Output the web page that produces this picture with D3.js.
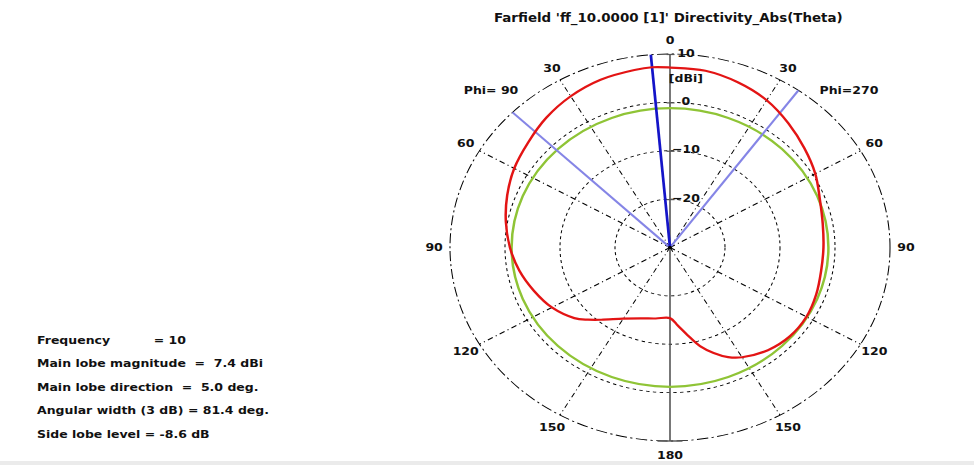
<!DOCTYPE html>
<html>
<head>
<meta charset="utf-8">
<script src="https://cdn.jsdelivr.net/npm/d3@7"></script>
<style>
  body { margin: 0; background: #fff; }
  text { font-family: "DejaVu Sans", sans-serif; font-weight: bold; fill: #111; }
</style>
</head>
<body>
<svg id="chart" width="974" height="465"></svg>
<script>
// cut Phi=90 (drawn on the left), theta in deg, directivity in dBi
const thetaPhi90 = [0, 5, 10, 20, 30, 40, 50, 60, 70, 80, 90, 100, 110, 120, 130, 135, 140, 150, 160, 170, 180];
const dirPhi90 = [7.2, 7.4, 7.25, 6.9, 6.1, 5.0, 3.7, 2.7, 1.5, 0.3, -0.9, -2.2, -3.7, -5.2, -7.3, -8.9, -10.5, -13.0, -14.4, -15.1, -15.4];

// cut Phi=270 (drawn on the right)
const thetaPhi270 = [0, 10, 20, 30, 40, 50, 60, 70, 80, 90, 100, 110, 120, 130, 140, 150, 155, 160, 165, 170, 175, 180];
const dirPhi270 = [7.2, 7.1, 6.3, 5.15, 3.5, 1.9, 0.5, -1.0, -1.8, -2.1, -2.1, -1.7, -1.35, -1.5, -2.3, -3.8, -5.0, -6.8, -8.9, -11.6, -13.8, -15.4];

// summary values
const frequency = 10;
const mainLobeMag = 7.4;
const mainLobeDir = 5.0;
const angularWidth = 81.4;
const sideLobeLevel = -8.6;

const ringValues = [-20, -10, 0, 10];
const angleTicks = [0, 30, 60, 90, 120, 150, 180];
const spokeAngles = [30, 60, 120, 150];

const title = "Farfield 'ff_10.0000 [1]' Directivity_Abs(Theta)";

const svg = d3.select("#chart");
const sx = 1.137;           // the picture is stretched horizontally
const cx = 670, cy = 247.5;
const rad = d3.scaleLinear().domain([-30, 10]).range([0, 193.5]);
const toRad = d => d * Math.PI / 180;
const fs = "11px";

svg.append("rect")
    .attr("x", 0).attr("y", 461)
    .attr("width", 974).attr("height", 4)
    .attr("fill", "#ebebeb");

const g = svg.append("g")
    .attr("transform", `translate(${cx},${cy}) scale(${sx},1)`);

g.append("text")
    .attr("x", -1.5)
    .attr("y", -229.5)
    .attr("text-anchor", "middle")
    .attr("dominant-baseline", "central")
    .style("font-size", "11.8px")
    .text(title);

// rings
g.selectAll("circle.ring")
  .data(ringValues)
  .join("circle")
    .attr("class", "ring")
    .attr("r", d => rad(d))
    .attr("fill", "none")
    .attr("stroke", "#000")
    .attr("stroke-width", 0.9)
    .attr("stroke-dasharray", d => d === 10 ? "10,3,2,3" : "3,3");

// spokes
const spokes = [];
spokeAngles.forEach(a => { spokes.push(a); spokes.push(-a); });
g.selectAll("line.spoke")
  .data(spokes)
  .join("line")
    .attr("class", "spoke")
    .attr("x2", d => rad(10) * Math.sin(toRad(d)))
    .attr("y2", d => -rad(10) * Math.cos(toRad(d)))
    .attr("stroke", "#000")
    .attr("stroke-width", 0.9)
    .attr("stroke-dasharray", "5,3,1,3");

// angle labels
const angleLabels = [];
angleTicks.forEach(a => {
  angleLabels.push({v: a, a: a});
  if (a > 0 && a < 180) angleLabels.push({v: a, a: -a});
});
g.selectAll("text.ang")
  .data(angleLabels)
  .join("text")
    .attr("class", "ang")
    .attr("x", d => (rad(10) + 14) * Math.sin(toRad(d.a)))
    .attr("y", d => -(rad(10) + 14) * Math.cos(toRad(d.a)))
    .attr("text-anchor", "middle")
    .attr("dominant-baseline", "central")
    .style("font-size", fs)
    .text(d => d.v);

// vertical dB axis
g.append("line")
    .attr("y1", -rad(10)).attr("y2", rad(10))
    .attr("stroke", "#555").attr("stroke-width", 1.4);
g.append("line")
    .attr("x1", -11).attr("x2", 11)
    .attr("y1", rad(10)).attr("y2", rad(10))
    .attr("stroke", "#555").attr("stroke-width", 1.4);

const yAxis = d3.scaleLinear().domain([-30, 10]).range([0, -193.5]);
const ax = g.append("g")
    .call(d3.axisRight(yAxis).tickValues(ringValues).tickSize(4));
ax.select(".domain").remove();
ax.selectAll(".tick line").attr("stroke", "#555").attr("x1", -3).attr("stroke-width", 1.2);
ax.selectAll(".tick text")
    .attr("x", 14).attr("dy", "0.2em")
    .attr("text-anchor", "middle")
    .attr("fill", "#111")
    .style("font-family", "DejaVu Sans, sans-serif")
    .style("font-weight", "bold")
    .style("font-size", fs);
g.append("text")
    .attr("x", 14).attr("y", yAxis(5))
    .attr("text-anchor", "middle")
    .attr("dominant-baseline", "central")
    .style("font-size", fs)
    .text("[dBi]");

// side lobe level circle
g.append("circle")
    .attr("r", rad(mainLobeMag + sideLobeLevel))
    .attr("fill", "none")
    .attr("stroke", "#8fc436")
    .attr("stroke-width", 2.2);

// 3 dB beam width edges
const beamEdges = [-(mainLobeDir + angularWidth / 2), angularWidth / 2 - mainLobeDir];
g.selectAll("line.beam")
  .data(beamEdges)
  .join("line")
    .attr("class", "beam")
    .attr("x2", d => rad(10) * Math.sin(toRad(d)))
    .attr("y2", d => -rad(10) * Math.cos(toRad(d)))
    .attr("stroke", "#8585e6")
    .attr("stroke-width", 2);

// main lobe direction
g.append("line")
    .attr("x2", rad(10) * Math.sin(toRad(-mainLobeDir)))
    .attr("y2", -rad(10) * Math.cos(toRad(-mainLobeDir)))
    .attr("stroke", "#1414c8")
    .attr("stroke-width", 2.4);

// pattern
const pts = [];
thetaPhi270.forEach((t, i) => pts.push({a: toRad(t), v: dirPhi270[i]}));
for (let i = thetaPhi90.length - 2; i > 0; i--) {
  pts.push({a: toRad(-thetaPhi90[i]), v: dirPhi90[i]});
}
const line = d3.lineRadial()
    .angle(d => d.a)
    .radius(d => rad(d.v))
    .curve(d3.curveCatmullRomClosed);
g.append("path")
    .attr("d", line(pts))
    .attr("fill", "none")
    .attr("stroke", "#e31414")
    .attr("stroke-width", 2.2);

g.append("circle").attr("r", 1.8).attr("fill", "#000");

// Phi labels
const phiLabels = [{t: "Phi= 90", a: -45}, {t: "Phi=270", a: 45}];
g.selectAll("text.phi")
  .data(phiLabels)
  .join("text")
    .attr("class", "phi")
    .attr("x", d => 222.6 * Math.sin(toRad(d.a)))
    .attr("y", d => -222.6 * Math.cos(toRad(d.a)))
    .attr("text-anchor", "middle")
    .attr("dominant-baseline", "central")
    .style("font-size", fs)
    .text(d => d.t);

// info block
const infoLines = [
  "Frequency          = " + frequency,
  "Main lobe magnitude  =  " + mainLobeMag.toFixed(1) + " dBi",
  "Main lobe direction  =  " + mainLobeDir.toFixed(1) + " deg.",
  "Angular width (3 dB) = " + angularWidth.toFixed(1) + " deg.",
  "Side lobe level = " + sideLobeLevel.toFixed(1) + " dB"
];
const info = svg.append("g")
    .attr("transform", `translate(37,340) scale(${sx},1)`);
info.selectAll("text")
  .data(infoLines)
  .join("text")
    .attr("y", (d, i) => i * 23.5)
    .attr("dominant-baseline", "central")
    .style("font-size", fs)
    .style("white-space", "pre")
    .text(d => d);
</script>
</body>
</html>
